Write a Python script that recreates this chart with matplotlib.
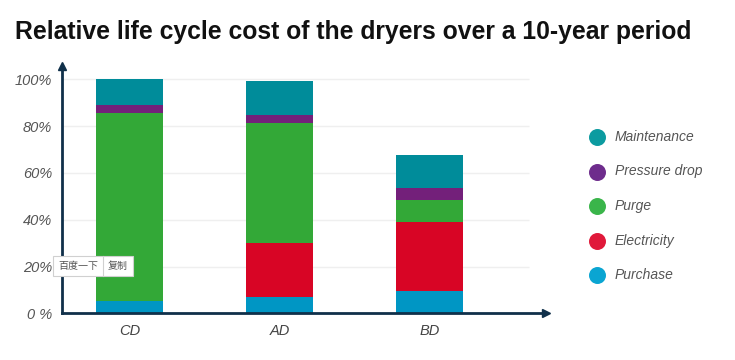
import matplotlib
matplotlib.use("Agg")
import matplotlib.pyplot as plt
from matplotlib.lines import Line2D
from matplotlib.patches import Rectangle
import numpy as np

categories = ["CD", "AD", "BD"]
series = ["Purchase", "Electricity", "Purge", "Pressure drop", "Maintenance"]
purchase = [5.4, 7.0, 9.7]
electricity = [0.0, 23.1, 29.4]
purge = [80.2, 51.3, 9.3]
pressure_drop = [3.6, 3.5, 5.3]
maintenance = [10.8, 14.5, 14.1]
yticks = [0, 20, 40, 60, 80, 100]
ytick_labels = ["0 %", "20%", "40%", "60%", "80%", "100%"]

bar_colors = ["#0096c4", "#d80525", "#33a837", "#73207a", "#008c9a"]
legend_colors = {"Maintenance": "#0c9ba0", "Pressure drop": "#6e2c8c",
                 "Purge": "#3ab54a", "Electricity": "#e0193a", "Purchase": "#0aa5d2"}

plt.rcParams['font.family'] = ['Liberation Sans', 'DejaVu Sans']

W, H = 735, 360
fig = plt.figure(figsize=(W / 100, H / 100), dpi=100)

def fx(px):
    return px / W

def fy(py):
    return 1 - py / H

ax_left, ax_right, ax_top, ax_bot = 62, 553, 62, 313.3
ax = fig.add_axes([fx(ax_left), fy(ax_bot), fx(ax_right - ax_left), (ax_bot - ax_top) / H])
ax.set_ylim(0, 100 * (ax_bot - ax_top) / 234.0)
x0 = -0.45
ax.set_xlim(x0, x0 + (ax_right - ax_left) / 150.0)
for s in ax.spines.values():
    s.set_visible(False)

x = np.arange(len(categories))
grid_end = (529 - 129.7) / 150.0
ax.hlines(yticks[1:], x0, grid_end, color="#efefef", lw=1, zorder=0)

data = [purchase, electricity, purge, pressure_drop, maintenance]
bottom = np.zeros(len(categories))
for vals, c in zip(data, bar_colors):
    ax.bar(x, vals, width=0.45, bottom=bottom, color=c, zorder=2)
    bottom += np.array(vals)

ax.set_xticks(x)
ax.set_xticklabels(categories, fontstyle="italic", color="#444444", fontsize=10.5)
ax.set_yticks(yticks)
ax.set_yticklabels(ytick_labels, fontstyle="italic", color="#555555", fontsize=10.5)
ax.tick_params(length=0, pad=7)
ax.tick_params(axis='x', pad=8)

axis_color = "#10304a"
ax.plot([0, 0], [0, 0.985], transform=ax.transAxes, color=axis_color, lw=2, clip_on=False, zorder=3)
ax.plot([0], [0.985], marker="^", ms=6, color=axis_color, transform=ax.transAxes, clip_on=False, zorder=3)
ax.plot([0, 0.985], [0, 0], transform=ax.transAxes, color=axis_color, lw=2, clip_on=False, zorder=3)
ax.plot([0.985], [0], marker=">", ms=6, color=axis_color, transform=ax.transAxes, clip_on=False, zorder=3)

fig.text(fx(15), fy(32), "Relative life cycle cost of the dryers over a 10-year period",
         fontsize=17.8, fontweight="bold", color="#111111", va="center", ha="left")

legend_order = ["Maintenance", "Pressure drop", "Purge", "Electricity", "Purchase"]
for i, name in enumerate(legend_order):
    yy = 137 + i * 34.5
    fig.add_artist(Line2D([fx(597)], [fy(yy)], marker="o", ms=11.2, color=legend_colors[name],
                          transform=fig.transFigure, linestyle="none"))
    fig.text(fx(615), fy(yy), name, fontsize=10, fontstyle="italic", color="#555555",
             va="center", ha="left")

# browser popup overlay
fig.add_artist(Rectangle((fx(53), fy(276)), fx(80), 20 / H, transform=fig.transFigure,
                         facecolor="white", edgecolor="#d0d0d0", lw=0.8, zorder=10))
fig.add_artist(Line2D([fx(103), fx(103)], [fy(276), fy(256)], color="#d0d0d0", lw=0.8,
                      transform=fig.transFigure, zorder=11))
fig.text(fx(78), fy(266), "百度一下", fontsize=7.2, color="#555555", ha="center", va="center",
         family=['Noto Sans CJK SC', 'DejaVu Sans'], zorder=12)
fig.text(fx(118), fy(266), "复制", fontsize=7.2, color="#555555", ha="center", va="center",
         family=['Noto Sans CJK SC', 'DejaVu Sans'], zorder=12)

fig.savefig("out.png", dpi=100)
